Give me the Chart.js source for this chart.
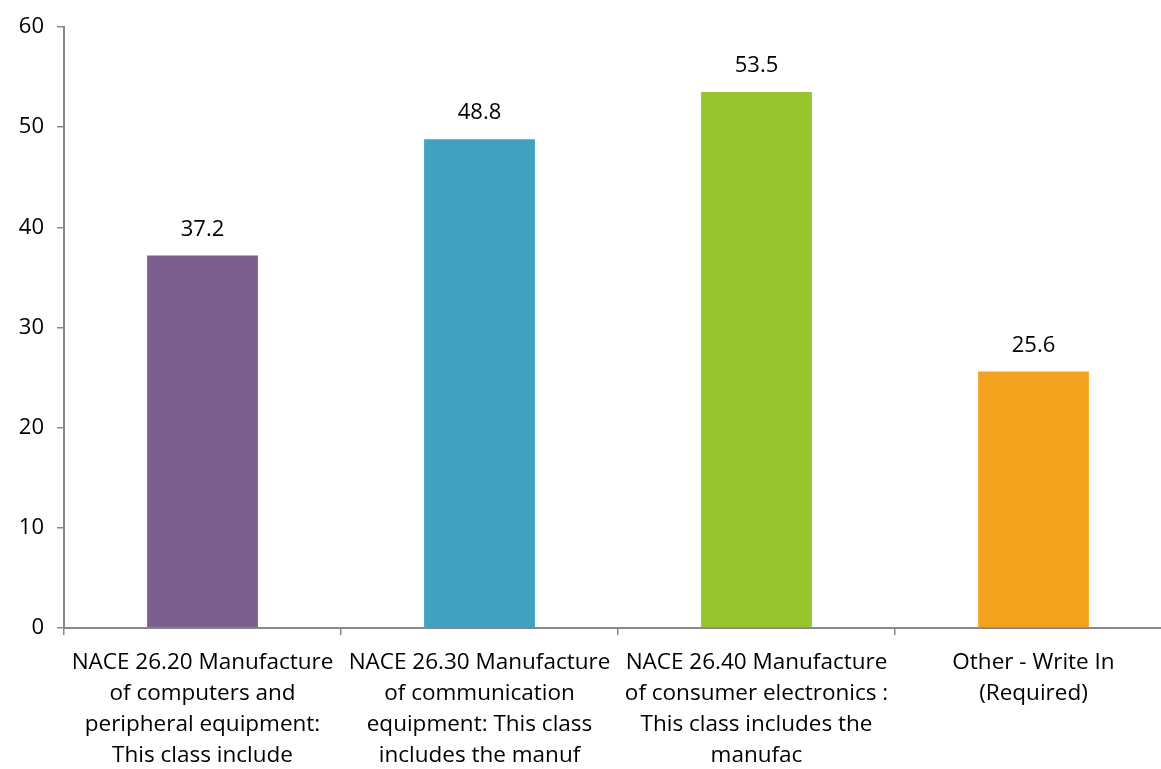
<!DOCTYPE html>
<html lang="en">
<head>
    <meta charset="UTF-8">
    <title>NACE chart</title>
    <style>
        html, body { margin: 0; padding: 0; background: #fff; overflow: hidden; }
        #wrap { width: 1172px; height: 769px; }
    </style>
</head>
<body>
    <div id="wrap">
        <canvas id="myChart" width="1172" height="769"></canvas>
    </div>

    <script src="https://cdn.jsdelivr.net/npm/chart.js@4.4.1/dist/chart.umd.min.js"></script>
    <script>
        var categories = [
            ['NACE 26.20 Manufacture', 'of computers and', 'peripheral equipment:', 'This class include'],
            ['NACE 26.30 Manufacture', 'of communication', 'equipment: This class', 'includes the manuf'],
            ['NACE 26.40 Manufacture', 'of consumer electronics :', 'This class includes the', 'manufac'],
            ['Other - Write In', '(Required)']
        ];
        var values = [37.2, 48.8, 53.5, 25.6];
        var barColors = ['#7B5F8E', '#3FA2C1', '#97C52B', '#F4A21E'];
        var yTicks = [0, 10, 20, 30, 40, 50, 60];

        var fontFamily = "'Open Sans', sans-serif";

        // draws the value above each bar
        var valueLabels = {
            id: 'valueLabels',
            afterDatasetsDraw: function(chart) {
                var ctx = chart.ctx;
                var meta = chart.getDatasetMeta(0);
                ctx.save();
                ctx.font = '22px ' + fontFamily;
                ctx.fillStyle = '#000';
                ctx.textAlign = 'center';
                ctx.textBaseline = 'middle';
                meta.data.forEach(function(bar, i) {
                    ctx.fillText(values[i].toFixed(1), bar.x, bar.y - 26);
                });
                ctx.restore();
            }
        };

        var ctx = document.getElementById('myChart').getContext('2d');
        var myChart = new Chart(ctx, {
            type: 'bar',
            data: {
                labels: categories,
                datasets: [{
                    data: values,
                    backgroundColor: barColors,
                    categoryPercentage: 1,
                    barPercentage: 0.4
                }]
            },
            options: {
                responsive: false,
                animation: false,
                layout: { padding: { top: 27, right: 0, left: 0, bottom: 0 } },
                plugins: {
                    legend: { display: false },
                    tooltip: { enabled: false }
                },
                scales: {
                    x: {
                        grid: {
                            offset: true,
                            drawOnChartArea: false,
                            tickLength: 7,
                            color: '#888',
                            lineWidth: 1.5
                        },
                        border: { color: '#888', width: 2 },
                        ticks: {
                            color: '#000',
                            maxRotation: 0,
                            autoSkip: false,
                            padding: 12,
                            font: { family: fontFamily, size: 22.5, lineHeight: 1.38 }
                        },
                        afterFit: function(scale) { scale.height = 141; }
                    },
                    y: {
                        min: 0,
                        max: 60,
                        afterBuildTicks: function(scale) {
                            scale.ticks = yTicks.map(function(v) { return { value: v }; });
                        },
                        grid: {
                            drawOnChartArea: false,
                            tickLength: 7,
                            color: '#888',
                            lineWidth: 1.5
                        },
                        border: { color: '#888', width: 2 },
                        ticks: {
                            color: '#000',
                            padding: 13,
                            font: { family: fontFamily, size: 22 }
                        },
                        afterFit: function(scale) { scale.width = 64; }
                    }
                }
            },
            plugins: [valueLabels]
        });
    </script>
</body>
</html>
